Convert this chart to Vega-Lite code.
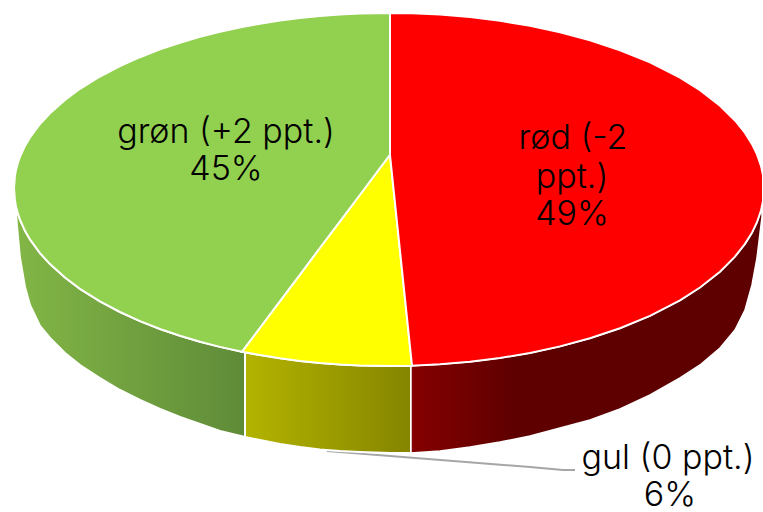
{"$schema":"https://vega.github.io/schema/vega-lite/v6.json","width":763,"height":512,"padding":0,"autosize":{"type":"none"},"background":"white","config":{"view":{"stroke":null}},
"datasets":{"slices":[
{"part":"wall grøn","x":16,"y":206.4,"y2":214},{"part":"wall grøn","x":18,"y":213.9,"y2":237},{"part":"wall grøn","x":20,"y":219.7,"y2":258},{"part":"wall grøn","x":25,"y":230.8,"y2":287},{"part":"wall grøn","x":30,"y":239.4,"y2":305},{"part":"wall grøn","x":40,"y":253.1,"y2":326},{"part":"wall grøn","x":50,"y":264.1,"y2":338},{"part":"wall grøn","x":65,"y":277.6,"y2":353},{"part":"wall grøn","x":80,"y":288.9,"y2":365},{"part":"wall grøn","x":100,"y":301.4,"y2":378},{"part":"wall grøn","x":120,"y":312,"y2":390},{"part":"wall grøn","x":140,"y":321.1,"y2":400},{"part":"wall grøn","x":160,"y":329,"y2":409},{"part":"wall grøn","x":180,"y":335.8,"y2":417},{"part":"wall grøn","x":200,"y":341.7,"y2":424},{"part":"wall grøn","x":220,"y":346.9,"y2":431},{"part":"wall grøn","x":245,"y":352.3,"y2":437},
{"part":"wall gul","x":245,"y":352.3,"y2":437},{"part":"wall gul","x":260,"y":355.1,"y2":440},{"part":"wall gul","x":280,"y":358.3,"y2":444},{"part":"wall gul","x":300,"y":360.9,"y2":447},{"part":"wall gul","x":320,"y":363,"y2":449.5},{"part":"wall gul","x":340,"y":364.5,"y2":451},{"part":"wall gul","x":360,"y":365.5,"y2":452},{"part":"wall gul","x":390,"y":366,"y2":453},{"part":"wall gul","x":411,"y":365.7,"y2":453},
{"part":"wall rød","x":411,"y":365.7,"y2":453},{"part":"wall rød","x":440,"y":364.3,"y2":451},{"part":"wall rød","x":470,"y":361.8,"y2":447},{"part":"wall rød","x":500,"y":358,"y2":442},{"part":"wall rød","x":530,"y":352.9,"y2":436},{"part":"wall rød","x":560,"y":346.4,"y2":428},{"part":"wall rød","x":590,"y":338.3,"y2":420},{"part":"wall rød","x":620,"y":328.2,"y2":409},{"part":"wall rød","x":650,"y":315.8,"y2":395},{"part":"wall rød","x":680,"y":300.3,"y2":378},{"part":"wall rød","x":700,"y":287.5,"y2":365},{"part":"wall rød","x":720,"y":271.7,"y2":348},{"part":"wall rød","x":735,"y":256.6,"y2":330},{"part":"wall rød","x":745,"y":243.9,"y2":310},{"part":"wall rød","x":752,"y":232.7,"y2":285},{"part":"wall rød","x":757,"y":222.2,"y2":258},{"part":"wall rød","x":761,"y":210.5,"y2":225},{"part":"wall rød","x":762,"y":206,"y2":217},
{"part":"top grøn","x":14,"y":188,"y2":188},{"part":"top grøn","x":15,"y":175.2,"y2":201},{"part":"top grøn","x":16,"y":169.9,"y2":206.4},{"part":"top grøn","x":18,"y":162.5,"y2":213.9},{"part":"top grøn","x":20,"y":156.8,"y2":219.7},{"part":"top grøn","x":25,"y":145.9,"y2":230.8},{"part":"top grøn","x":30,"y":137.4,"y2":239.4},{"part":"top grøn","x":40,"y":124,"y2":253.1},{"part":"top grøn","x":50,"y":113.2,"y2":264.1},{"part":"top grøn","x":65,"y":99.9,"y2":277.6},{"part":"top grøn","x":80,"y":88.8,"y2":288.9},{"part":"top grøn","x":100,"y":76.5,"y2":301.4},{"part":"top grøn","x":120,"y":66.1,"y2":312},{"part":"top grøn","x":140,"y":57.2,"y2":321.1},{"part":"top grøn","x":160,"y":49.4,"y2":329},{"part":"top grøn","x":180,"y":42.7,"y2":335.8},{"part":"top grøn","x":200,"y":36.9,"y2":341.7},{"part":"top grøn","x":220,"y":31.8,"y2":346.9},{"part":"top grøn","x":242,"y":27,"y2":351.8},{"part":"top grøn","x":260,"y":23.7,"y2":328},{"part":"top grøn","x":280,"y":20.6,"y2":301.4},{"part":"top grøn","x":300,"y":18,"y2":274.8},{"part":"top grøn","x":320,"y":16,"y2":248},{"part":"top grøn","x":340,"y":14.5,"y2":221.6},{"part":"top grøn","x":360,"y":13.5,"y2":195},{"part":"top grøn","x":390,"y":13,"y2":155},
{"part":"top gul","x":242,"y":351.8,"y2":351.8},{"part":"top gul","x":260,"y":328,"y2":355.1},{"part":"top gul","x":280,"y":301.4,"y2":358.3},{"part":"top gul","x":300,"y":274.8,"y2":360.9},{"part":"top gul","x":320,"y":248,"y2":363},{"part":"top gul","x":340,"y":221.6,"y2":364.5},{"part":"top gul","x":360,"y":195,"y2":365.5},{"part":"top gul","x":390,"y":155,"y2":366},{"part":"top gul","x":412,"y":365.7,"y2":365.7},
{"part":"top rød","x":390,"y":13,"y2":155},{"part":"top rød","x":412,"y":13.3,"y2":365.7},{"part":"top rød","x":440,"y":14.6,"y2":364.3},{"part":"top rød","x":470,"y":17.1,"y2":361.8},{"part":"top rød","x":500,"y":20.8,"y2":358},{"part":"top rød","x":530,"y":25.8,"y2":352.9},{"part":"top rød","x":560,"y":32.3,"y2":346.4},{"part":"top rød","x":590,"y":40.3,"y2":338.3},{"part":"top rød","x":620,"y":50.2,"y2":328.2},{"part":"top rød","x":650,"y":62.4,"y2":315.8},{"part":"top rød","x":680,"y":77.6,"y2":300.3},{"part":"top rød","x":700,"y":90.2,"y2":287.5},{"part":"top rød","x":720,"y":105.8,"y2":271.7},{"part":"top rød","x":735,"y":120.5,"y2":256.6},{"part":"top rød","x":745,"y":133,"y2":243.9},{"part":"top rød","x":752,"y":144.1,"y2":232.7},{"part":"top rød","x":757,"y":154.3,"y2":222.2},{"part":"top rød","x":761,"y":165.9,"y2":210.5},{"part":"top rød","x":763,"y":175.2,"y2":201}],
"leader":[{"x":327,"y":451},{"x":530,"y":467},{"x":563,"y":470},{"x":575,"y":470}],
"labels":[{"text":"grøn (+2 ppt.)","x":226,"y":133},{"text":"45%","x":226,"y":170},{"text":"rød (-2","x":573,"y":139},{"text":"ppt.)","x":572,"y":178},{"text":"49%","x":572,"y":215},{"text":"gul (0 ppt.)","x":668,"y":459},{"text":"6%","x":670,"y":496}]},
"encoding":{"x":{"field":"x","type":"quantitative","axis":null,"scale":{"domain":[0,763],"nice":false,"zero":false}},"y":{"field":"y","type":"quantitative","axis":null,"scale":{"domain":[512,0],"nice":false,"zero":false}}},
"layer":[
{"data":{"name":"leader"},"mark":{"type":"line","color":"#a6a6a6","strokeWidth":2}},
{"data":{"name":"slices"},"transform":[{"filter":"datum.part==='wall grøn'"}],"mark":{"type":"area","stroke":"white","strokeWidth":2,"fill":{"gradient":"linear","x1":0,"x2":1,"y1":0,"y2":0,"stops":[{"offset":0,"color":"#82b646"},{"offset":1,"color":"#5f8b38"}]}},"encoding":{"y2":{"field":"y2"}}},
{"data":{"name":"slices"},"transform":[{"filter":"datum.part==='wall gul'"}],"mark":{"type":"area","stroke":"white","strokeWidth":2,"fill":{"gradient":"linear","x1":0,"x2":1,"y1":0,"y2":0,"stops":[{"offset":0,"color":"#b3b300"},{"offset":1,"color":"#858500"}]}},"encoding":{"y2":{"field":"y2"}}},
{"data":{"name":"slices"},"transform":[{"filter":"datum.part==='wall rød'"}],"mark":{"type":"area","stroke":"white","strokeWidth":1.5,"fill":{"gradient":"linear","x1":0,"x2":1,"y1":0,"y2":0,"stops":[{"offset":0,"color":"#850000"},{"offset":0.3,"color":"#5e0000"},{"offset":1,"color":"#5e0000"}]}},"encoding":{"y2":{"field":"y2"}}},
{"data":{"name":"slices"},"transform":[{"filter":"datum.part==='top grøn'"}],"mark":{"type":"area","stroke":"white","strokeWidth":2,"fill":"#92d050"},"encoding":{"y2":{"field":"y2"}}},
{"data":{"name":"slices"},"transform":[{"filter":"datum.part==='top gul'"}],"mark":{"type":"area","stroke":"white","strokeWidth":2,"fill":"#ffff00"},"encoding":{"y2":{"field":"y2"}}},
{"data":{"name":"slices"},"transform":[{"filter":"datum.part==='top rød'"}],"mark":{"type":"area","stroke":"white","strokeWidth":2,"fill":"#ff0000"},"encoding":{"y2":{"field":"y2"}}},
{"data":{"name":"labels"},"mark":{"type":"text","font":"Inter","fontSize":34,"fontWeight":300,"color":"#000000","align":"center","baseline":"middle"},"encoding":{"text":{"field":"text","type":"nominal"}}}
]}
